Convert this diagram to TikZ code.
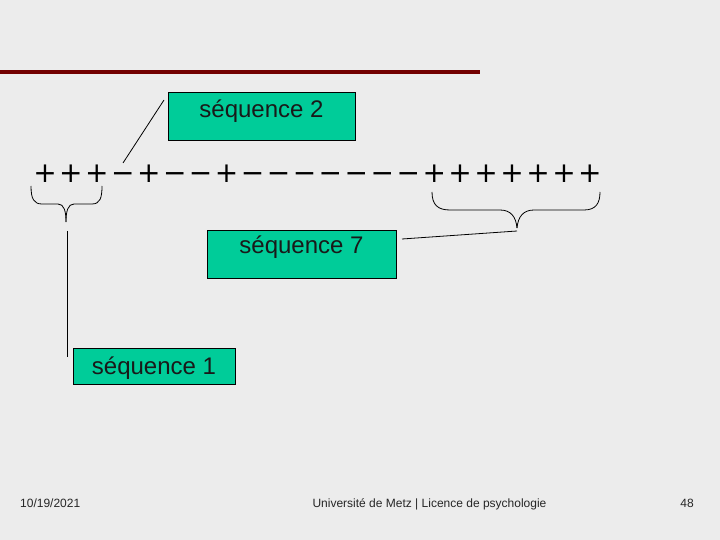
\documentclass[tikz,border=0pt]{standalone}
\usepackage{fontspec}
\setmainfont{Liberation Sans}
\newfontfamily\symfont{DejaVu Sans}
\definecolor{bgc}{RGB}{236,236,236}
\definecolor{seqgreen}{RGB}{0,204,153}
\definecolor{barred}{RGB}{114,0,0}
\tikzset{
  seqbox/.style={draw=black, fill=seqgreen, line width=0.9pt, inner sep=0pt},
  seqtext/.style={anchor=base, inner sep=0pt, font=\fontsize{24}{28}\selectfont, text=black!90},
  sym/.style={anchor=base, inner sep=0pt, font=\symfont\fontsize{28}{30}\selectfont},
  conn/.style={line width=0.8pt, black},
  bracec/.style={line width=0.8pt, black},
  foot/.style={anchor=base, inner sep=0pt, font=\fontsize{12}{14}\selectfont, text=black!85}
}
\begin{document}
\begin{tikzpicture}[x=1pt,y=-1pt]
\useasboundingbox (0,0) rectangle (720,540);
\fill[bgc] (0,0) rectangle (720,540);
% top bar
\fill[barred] (0,70) rectangle (480,74);
% sequence of signs
\def\signs{+,+,+,−,+,−,−,+,−,−,−,−,−,−,−,+,+,+,+,+,+,+}
\foreach \s [count=\i from 0] in \signs {
  \node[sym] (g\i) at (45+\i*25.95,183) {\s};
}
% boxes
\node[seqbox, minimum width=187pt, minimum height=48pt] (s2) at (261.5,116) {};
\node[seqtext] (t2) at (261.5,118) {séquence 2};
\node[seqbox, minimum width=189pt, minimum height=48pt] (s7) at (301.5,254) {};
\node[seqtext] (t7) at (301.5,254) {séquence 7};
\node[seqbox, minimum width=162pt, minimum height=36pt] (s1) at (154,366) {};
\node[seqtext] (t1) at (154,374) {séquence 1};
% braces
\draw[bracec] (31,186) .. controls (31,199) and (34,204) .. (42,204) -- (58,204)
  .. controls (64,204) and (66,211) .. (66,222);
\draw[bracec] (66,222) .. controls (66,211) and (68,204) .. (74,204) -- (92,204)
  .. controls (100,204) and (102,198) .. (102,186);
\coordinate (b1) at (67,231);
\coordinate (b1e) at (67,357);
\draw[bracec] (432,192) .. controls (432,205) and (438,210) .. (450,210) -- (500,210)
  .. controls (511,210) and (516,217) .. (517,228);
\draw[bracec] (517,228) .. controls (518,217) and (523,210) .. (534,210) -- (584,210)
  .. controls (596,210) and (600,203) .. (600,192);
% connectors
\coordinate (c2a) at (123,163);
\coordinate (c2b) at (164,100);
\draw[conn] (c2a) -- (c2b);
\coordinate (c7a) at (517,231);
\coordinate (c7b) at (402,239);
\draw[conn] (c7a) -- (c7b);
\draw[conn] (b1) -- (b1e);
% footer
\node[foot, anchor=base west] (date) at (20,507) {10/19/2021};
\node[foot] (uni) at (429.5,507) {Université de Metz | Licence de psychologie};
\node[foot, anchor=base east] (pg) at (694,507) {48};
\end{tikzpicture}
\end{document}
